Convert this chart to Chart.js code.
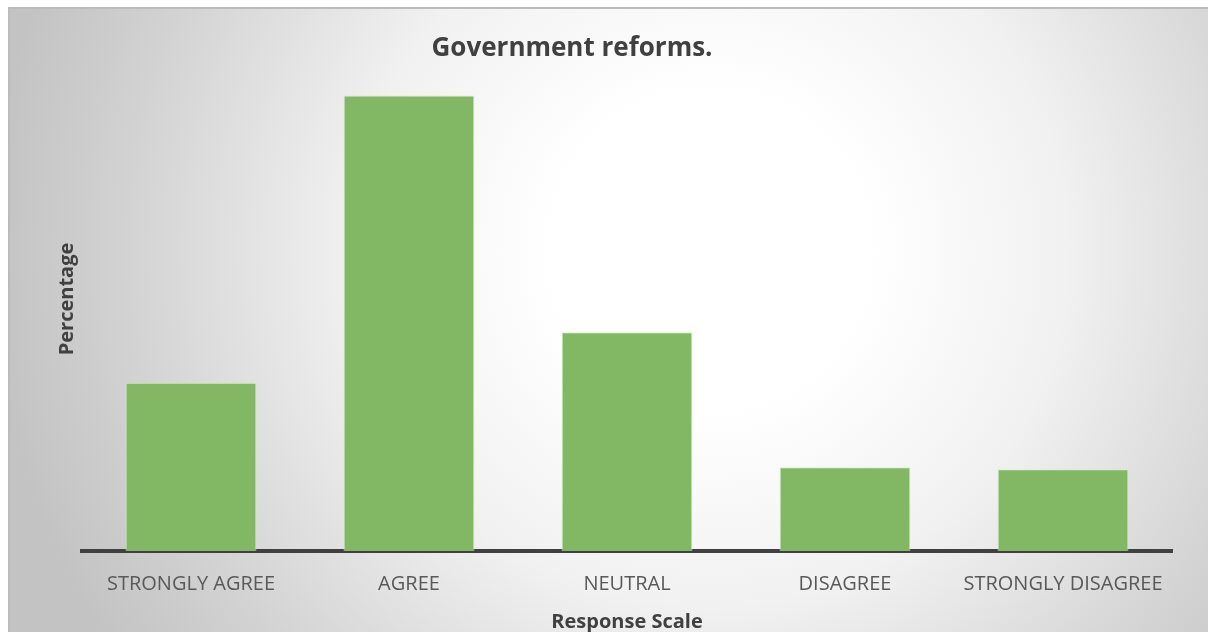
<!DOCTYPE html>
<html>
<head>
<meta charset="utf-8">
<title>Government reforms.</title>
<script src="https://cdn.jsdelivr.net/npm/chart.js@4/dist/chart.umd.min.js"></script>
<style>
  html, body { margin: 0; padding: 0; background: #ffffff; }
  #wrap { width: 1208px; height: 632px; position: relative; }
</style>
</head>
<body>
<div id="wrap"><canvas id="chart" width="1208" height="632"></canvas></div>
<script>
// Survey responses (percentage of respondents)
const categories = ['STRONGLY AGREE', 'AGREE', 'NEUTRAL', 'DISAGREE', 'STRONGLY DISAGREE'];
const percentages = [16.7, 45.2, 21.7, 8.3, 8.1];
const chartTitle = 'Government reforms.';
const xAxisTitle = 'Response Scale';
const yAxisTitle = 'Percentage';

const FONT = '"Open Sans", "Noto Sans", "Liberation Sans", sans-serif';

// Grey frame with a soft radial highlight behind the plot
const backdrop = {
  id: 'backdrop',
  beforeDraw(chart) {
    const ctx = chart.ctx;
    const x0 = 9, y0 = 8, x1 = chart.width, y1 = chart.height;
    ctx.save();
    const g = ctx.createRadialGradient(710, 250, 160, 710, 250, 720);
    g.addColorStop(0, '#ffffff');
    g.addColorStop(0.35, '#f1f1f1');
    g.addColorStop(0.75, '#d3d3d3');
    g.addColorStop(1, '#c3c3c3');
    ctx.fillStyle = g;
    ctx.fillRect(x0, y0, x1 - x0, y1 - y0);
    ctx.strokeStyle = '#bcbcbc';
    ctx.lineWidth = 2;
    ctx.beginPath();
    ctx.moveTo(x0, y1);
    ctx.lineTo(x0, y0);
    ctx.lineTo(x1, y0);
    ctx.stroke();
    ctx.restore();
  }
};

// Chart heading, placed left of the plot centre
const heading = {
  id: 'heading',
  afterDraw(chart) {
    const ctx = chart.ctx;
    ctx.save();
    ctx.fillStyle = '#404040';
    ctx.font = 'bold 26px ' + FONT;
    ctx.textAlign = 'center';
    ctx.textBaseline = 'middle';
    ctx.fillText(chartTitle, 572, 49);
    ctx.restore();
  }
};

new Chart(document.getElementById('chart'), {
  type: 'bar',
  data: {
    labels: categories,
    datasets: [{
      data: percentages,
      backgroundColor: '#82b763',
      borderColor: 'rgba(214,236,200,0.9)',
      borderWidth: 1,
      categoryPercentage: 0.6,
      barPercentage: 1.0
    }]
  },
  options: {
    responsive: false,
    animation: false,
    layout: { padding: { left: 52, right: 36, top: 47, bottom: 0 } },
    plugins: {
      legend: { display: false },
      title: { display: false },
      tooltip: { enabled: false }
    },
    scales: {
      x: {
        grid: { display: false, drawTicks: false },
        border: { display: true, color: '#404040', width: 4 },
        ticks: {
          color: '#595959',
          font: { family: FONT, size: 20 },
          padding: 21,
          maxRotation: 0,
          autoSkip: false
        },
        title: {
          display: true,
          text: xAxisTitle,
          color: '#404040',
          font: { family: FONT, size: 20, weight: 'bold' },
          padding: { top: 4, bottom: -2 }
        },
        afterFit(scale) { scale.height = 81; }
      },
      y: {
        min: 0,
        max: 50,
        grid: { display: false, drawTicks: false },
        border: { display: false },
        ticks: { display: false },
        title: {
          display: true,
          text: yAxisTitle,
          color: '#404040',
          font: { family: FONT, size: 20, weight: 'bold' },
          padding: { top: 3, bottom: 3 }
        },
        afterFit(scale) { scale.width = 30; }
      }
    }
  },
  plugins: [backdrop, heading]
});
</script>
</body>
</html>
